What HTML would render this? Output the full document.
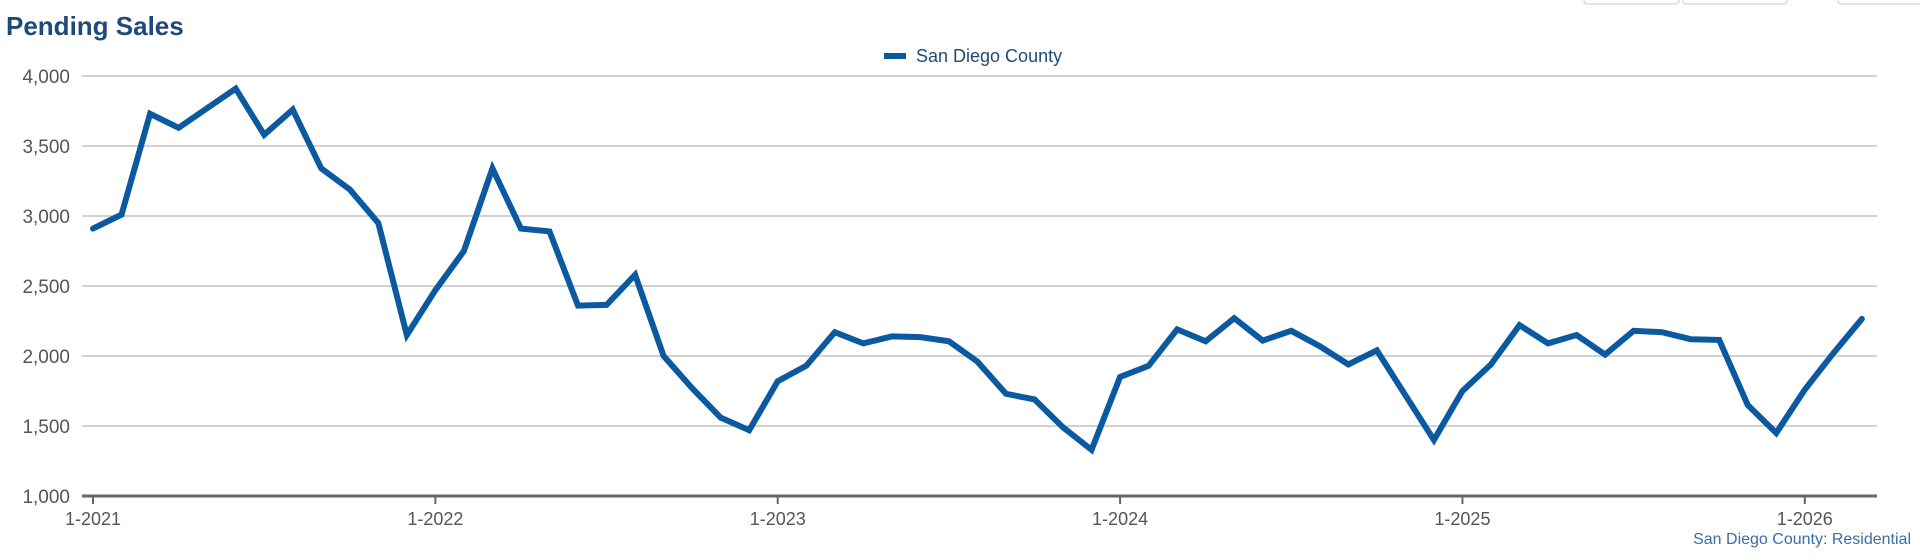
<!DOCTYPE html>
<html><head><meta charset="utf-8"><style>
body{margin:0;background:#fff;width:1920px;height:560px;overflow:hidden;font-family:"Liberation Sans",Arial,sans-serif}
svg{display:block}
</style></head><body>
<svg id="chart" width="1920" height="560">
<rect x="1584" y="-6" width="95" height="10" rx="3" fill="#fff" stroke="#ccc"/>
<rect x="1683" y="-6" width="104" height="10" rx="3" fill="#fff" stroke="#ccc"/>
<rect x="1838" y="-6" width="90" height="10" rx="3" fill="#fff" stroke="#ccc"/>
<text x="6" y="35" font-size="26" font-weight="bold" fill="#1f4a78">Pending Sales</text>
<g>
<line x1="884" y1="56" x2="906" y2="56" stroke="#0b5aa0" stroke-width="6"/>
<text x="916" y="62" font-size="18" fill="#1f4a78">San Diego County</text>
</g>
<g id="grid"></g><g id="yticks"></g><g id="xticks"></g><g id="series"></g>
<text x="1911" y="544" font-size="16" fill="#3a6ea5" text-anchor="end">San Diego County: Residential</text>
</svg>
<script>
const yTicks=[1000,1500,2000,2500,3000,3500,4000];
const yTickLabels=["1,000","1,500","2,000","2,500","3,000","3,500","4,000"];
const xTickLabels=["1-2021","1-2022","1-2023","1-2024","1-2025","1-2026"];
const values2021=[2910,3010,3730,3630,3770,3910,3580,3760,3340,3190,2950,2150];
const values2022=[2470,2750,3340,2910,2890,2360,2365,2580,2000,1770,1560,1470];
const values2023=[1820,1930,2170,2090,2140,2135,2105,1960,1730,1690,1490,1330];
const values2024=[1850,1930,2190,2105,2270,2110,2180,2070,1940,2040,1720,1400];
const values2025=[1750,1940,2220,2090,2150,2010,2180,2170,2120,2115,1650,1450];
const values2026=[1760,2020,2265];
const values=[].concat(values2021,values2022,values2023,values2024,values2025,values2026);
const NS="http://www.w3.org/2000/svg";
const L=82,R=1877,T=76,B=496,X0=93,MONTH=28.53;
const y=v=>B-(v-1000)/3000*(B-T);
const x=i=>X0+i*MONTH;
function mk(tag,attrs,parent){const e=document.createElementNS(NS,tag);for(const k in attrs)e.setAttribute(k,attrs[k]);document.getElementById(parent).appendChild(e);return e;}
yTicks.forEach((v,i)=>{
 if(i>0){const g=mk('line',{x1:L,x2:R,y1:y(v),y2:y(v),stroke:'#c4c4c4','stroke-width':1.5},'grid');
 
 }
 const t=mk('text',{x:70,y:y(v)+7,'font-size':19,fill:'#555','text-anchor':'end'},'yticks');t.textContent=yTickLabels[i];
 
 
});
const ax=mk('line',{x1:L,x2:R,y1:B,y2:B,stroke:'#666','stroke-width':3},'grid');


xTickLabels.forEach((s,i)=>{
 const xx=x(i*12);
 const tk=mk('line',{x1:xx,x2:xx,y1:B,y2:B+8,stroke:'#666','stroke-width':2},'xticks');
 
 
 const t=mk('text',{x:xx,y:B+29,'font-size':18,fill:'#555','text-anchor':'middle'},'xticks');t.textContent=s;
 
 
});
const p=mk('polyline',{points:values.map((v,i)=>x(i)+','+y(v)).join(' '),fill:'none',stroke:'#0b5aa0','stroke-width':6,'stroke-linejoin':'miter','stroke-linecap':'round'},'series');


</script>
</body></html>
